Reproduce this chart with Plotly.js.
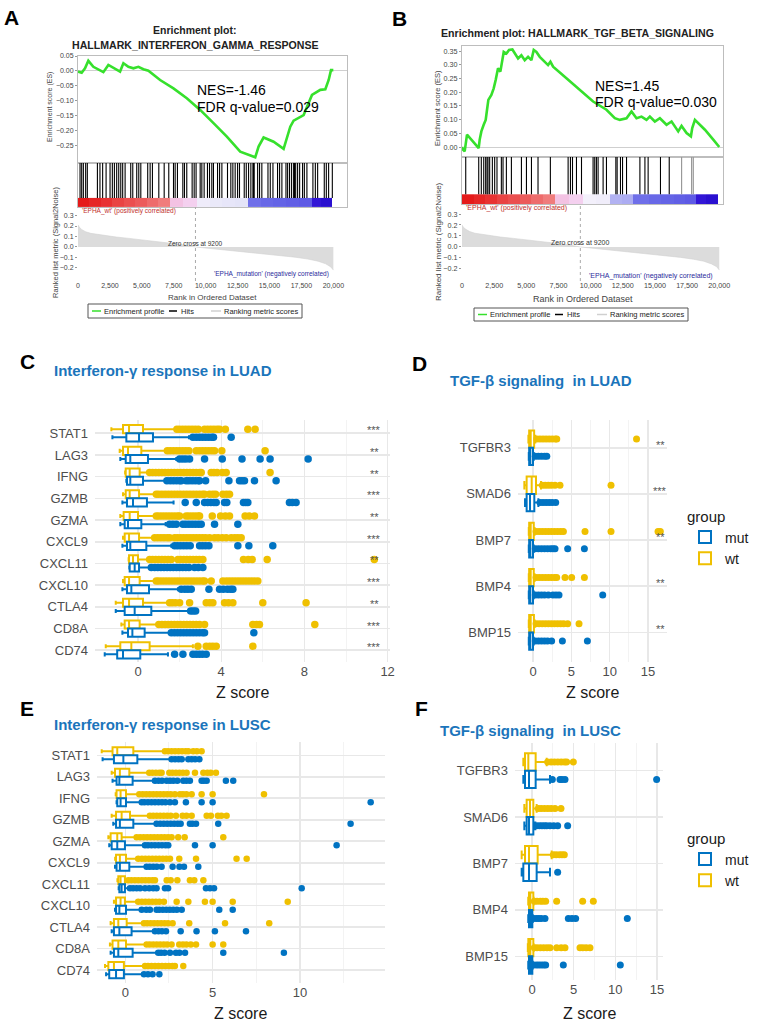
<!DOCTYPE html>
<html><head><meta charset="utf-8">
<script src="https://cdn.plot.ly/plotly-3.0.1.min.js"></script>
<style>html,body{margin:0;padding:0;background:#fff}#chart{width:757px;height:1024px}</style>
</head><body><div id="chart"></div>
<script>
// ---------------- GSEA data ----------------
const esRankA = [0,288,549,810,1203,1725,1987,2379,2902,3294,3556,3948,4340,4732,5124,5516,6431,7477,8523,9569,10614,11660,12706,13229,13882,14144,14536,15320,16105,16627,16889,17673,18327,18980,19373,19634,19817,20000];
const esA = [-0.002,-0.006,0.009,0.034,0.014,0.003,-0.004,0.020,0.009,-0.002,0.026,0.014,0.009,0.014,0.006,0.001,-0.030,-0.058,-0.091,-0.130,-0.174,-0.219,-0.269,-0.277,-0.288,-0.252,-0.222,-0.236,-0.260,-0.186,-0.166,-0.147,-0.080,-0.063,-0.061,-0.030,0.003,0.003];
const hitsA = [160,290,420,600,730,1520,1720,1930,2200,2510,2690,2850,3030,3190,3350,3500,3690,4130,4290,4600,4760,4920,5460,5650,5830,6330,6750,7110,7480,7610,7790,8210,8340,8520,8940,9100,9250,9570,9700,9880,10140,10300,10480,10610,10930,11090,11270,11710,11970,12130,12310,12500,12650,13020,13180,13360,13540,13700,13750,13800,14070,14220,14400,14880,15060,15270,15630,15790,15970,16290,16420,16570,16730,16890,16960,17050,17200,17360,17590,17730,17930,18400,18590,18770,19290,19450,19630,19920];
const barEdgesA = [0,900,1800,2700,3600,4500,5400,6300,7200,8250,9300,10300,11300,12300,13300,14300,15300,16300,17300,18300,19050,19900];
const barLevelsA = [1.0,0.97,0.94,0.9,0.87,0.84,0.8,0.76,0.25,0.2,-0.05,-0.08,-0.1,-0.12,-0.55,-0.58,-0.6,-0.62,-0.64,-0.95,-1.0];
const metricRank = [0,100,300,600,1000,1500,2000,3000,4000,5000,6000,7000,8000,9200,10000,11000,12000,13000,14000,15000,16000,17000,18000,18800,19400,19800,20000];
const metricA = [0.21,0.19,0.165,0.145,0.13,0.12,0.11,0.095,0.082,0.068,0.055,0.04,0.025,0.0,-0.01,-0.022,-0.034,-0.045,-0.057,-0.068,-0.082,-0.097,-0.115,-0.135,-0.16,-0.19,-0.22];

const esRankB = [0,78,208,389,726,1115,1297,1375,1505,1686,1842,1946,2049,2283,2464,2620,2801,2983,3139,3243,3450,3658,3917,4099,4358,4617,4877,5136,5396,5577,5785,6044,6303,6692,6874,7081,8119,9156,10194,11231,11880,12269,12788,13177,13566,13955,14344,14604,14993,15382,15901,16290,16809,17068,17458,17795,17899,18106,18884,19533,20000];
const esB = [0,-0.010,-0.016,0.045,0.027,0.008,-0.004,0.027,0.057,0.081,0.099,0.136,0.172,0.190,0.214,0.245,0.287,0.275,0.329,0.347,0.341,0.354,0.356,0.341,0.323,0.335,0.317,0.329,0.317,0.354,0.347,0.329,0.317,0.299,0.311,0.293,0.251,0.208,0.166,0.136,0.105,0.099,0.105,0.130,0.105,0.111,0.099,0.111,0.093,0.105,0.081,0.093,0.057,0.077,0.051,0.039,0.069,0.099,0.063,0.027,0.000];
const hitsB = [290,1300,1500,1690,1840,1950,2020,2150,2360,2540,2720,3060,3190,3450,3840,4620,5010,5400,5910,6870,8250,8430,8590,8900,9290,10190,10320,10450,10580,10970,11230,11960,12060,12320,12480,12790,13830,14220,14470,15430,16110];
const hitsBgray = [17070,17850,17980];
const barEdgesB = [0,900,1800,2700,3600,4500,5400,6300,7200,8300,9400,10400,11500,12400,13300,14500,15500,16500,17300,18200,19000,19900];
const barLevelsB = [1.0,0.97,0.94,0.9,0.87,0.84,0.8,0.76,0.25,0.2,-0.02,-0.04,-0.3,-0.32,-0.55,-0.58,-0.6,-0.62,-0.64,-0.95,-1.0];
const metricB = [0.2,0.18,0.16,0.14,0.125,0.115,0.105,0.09,0.078,0.065,0.052,0.038,0.024,0.0,-0.01,-0.02,-0.032,-0.043,-0.055,-0.066,-0.08,-0.095,-0.112,-0.13,-0.155,-0.18,-0.21];
const rankTicks = [0,2500,5000,7500,10000,12500,15000,17500,20000];

// ---------------- Panel C: Interferon-γ LUAD ----------------
const genesIFN = ['STAT1','LAG3','IFNG','GZMB','GZMA','CXCL9','CXCL11','CXCL10','CTLA4','CD8A','CD74'];
const cWtLf  = [-1.28,-0.88,-0.62,-0.72,-0.85,-0.72,-0.45,-0.72,-1.07,-0.80,-1.55];
const cWtQ1  = [-0.72,-0.72,-0.59,-0.59,-0.69,-0.64,-0.43,-0.64,-0.72,-0.64,-0.85];
const cWtMed = [-0.43,-0.48,-0.40,-0.40,-0.40,-0.43,-0.24,-0.43,-0.43,-0.43,-0.32];
const cWtQ3  = [0.24,0.16,0.08,0.05,0.00,0.05,0.00,0.08,0.24,0.08,0.56];
const cWtUf  = [1.84,1.36,0.48,0.85,0.85,0.72,0.48,0.85,1.49,0.96,2.64];
const cMutLf  = [-1.23,-0.85,-0.56,-0.75,-0.85,-0.75,-0.42,-0.75,-1.07,-0.75,-1.60];
const cMutQ1  = [-0.56,-0.59,-0.53,-0.53,-0.64,-0.53,-0.40,-0.53,-0.64,-0.48,-1.00];
const cMutMed = [0.05,-0.37,-0.37,-0.24,-0.48,-0.37,-0.16,-0.32,-0.16,-0.27,-0.72];
const cMutQ3  = [0.72,0.48,0.24,0.43,0.16,0.40,0.05,0.53,0.64,0.32,0.11];
const cMutUf  = [2.45,1.84,1.33,1.71,1.33,1.60,0.56,1.92,2.48,1.52,1.44];
const cWtOut = [
 [1.87,2.0,2.15,2.3,2.45,2.6,2.75,2.9,3.2,3.35,3.5,3.65,3.8,3.92,4.2,5.28,5.63],
 [1.41,1.55,1.7,1.85,2.0,2.15,2.3,2.45,2.8,2.95,3.1,3.25,3.4,3.55,3.68,4.03,6.11],
 [0.56,0.7,0.85,1.0,1.15,1.3,1.45,1.6,1.75,1.9,2.05,2.2,2.35,2.5,2.65,2.8,2.96,3.04,3.52,3.65,3.8,4.05,4.24,6.35],
 [0.88,1.0,1.15,1.3,1.45,1.6,1.75,1.9,2.05,2.2,2.35,2.5,2.65,2.8,2.95,3.1,3.2,3.44,3.6,3.73,4.08,4.25,4.4],
 [0.88,1.0,1.15,1.3,1.45,1.6,1.75,1.9,2.0,2.32,2.45,2.6,2.75,2.9,2.96,3.57,3.97,4.2,4.4,5.15,5.35,5.6],
 [0.8,0.95,1.1,1.25,1.4,1.52,1.76,1.9,2.05,2.2,2.35,2.5,2.65,2.8,2.95,3.1,3.25,3.44,3.68,3.85,4.05,4.24,4.48,4.65,4.8,4.96],
 [0.56,0.7,0.85,1.0,1.15,1.3,1.45,1.6,1.92,2.05,2.2,2.35,2.5,2.65,2.8,2.95,3.12,5.07,5.3,5.49,6.21,11.36],
 [0.88,1.0,1.15,1.3,1.45,1.6,1.75,1.9,2.05,2.2,2.35,2.5,2.65,2.8,2.95,3.1,3.2,3.52,4.08,4.25,4.4,4.55,4.7,4.85,5.0,5.15,5.3,5.45,5.6,5.76],
 [1.52,1.65,1.8,2.0,2.48,3.28,3.45,3.6,4.16,4.35,4.56,6.0,8.08],
 [1.0,1.15,1.3,1.45,1.6,1.75,1.9,2.05,2.2,2.35,2.5,2.65,2.8,2.96,3.2,5.52,5.7,5.84,8.5],
 [2.88,3.28,3.45,3.6,3.76,5.52]
];
const cMutOut = [
 [2.64,2.8,2.95,3.1,3.25,3.4,3.55,3.63,4.48],
 [2.0,2.15,2.3,2.48,3.2,4.05,5.0,5.87,6.35,8.18],
 [1.39,1.55,1.7,1.85,2.0,2.08,2.32,2.45,2.6,2.75,2.9,2.96,3.25,4.37,4.88,5.0,5.12,5.6,6.64],
 [2.27,2.8,3.2,3.35,3.5,3.65,3.76,4.16,4.27,5.07,5.18,5.28,7.28,7.42,7.6],
 [1.52,1.68,1.84,2.16,2.3,2.45,2.6,2.75,2.9,3.04,3.68,4.8],
 [1.76,1.9,2.05,2.2,2.35,2.51,2.96,3.1,3.25,3.41,4.8,5.33,6.48],
 [0.64,0.8,0.95,1.1,1.25,1.4,1.55,1.7,1.85,2.0,2.15,2.3,2.45,2.72,2.9,3.12],
 [2.08,2.25,2.4,2.56,3.41,3.92,4.1,4.3,4.45,4.56],
 [2.53,2.65,2.77],
 [1.6,1.75,1.9,2.05,2.2,2.35,2.5,2.65,2.8,2.95,3.1,3.2,5.57],
 [1.76,2.16,2.64,2.8,2.95,3.1,3.28]
];
const cStars = ['***','**','**','***','**','***','**','***','**','***','***'];

// ---------------- Panel E: Interferon-γ LUSC ----------------
const eWtLf  = [-1.35,-0.78,-0.55,-0.78,-0.97,-0.58,-0.45,-0.65,-0.84,-0.88,-1.16];
const eWtQ1  = [-0.73,-0.59,-0.50,-0.53,-0.84,-0.53,-0.40,-0.53,-0.65,-0.73,-0.97];
const eWtMed = [-0.46,-0.31,-0.27,-0.21,-0.46,-0.31,-0.27,-0.27,-0.40,-0.40,-0.65];
const eWtQ3  = [0.46,0.23,0.04,0.27,-0.21,0.04,-0.02,-0.02,0.08,0.04,-0.08];
const eWtUf  = [2.21,1.32,0.74,1.32,0.55,0.65,0.08,0.65,0.99,1.13,1.07];
const eMutLf  = [-1.30,-0.73,-0.50,-0.69,-0.92,-0.59,-0.38,-0.59,-0.78,-0.84,-1.10];
const eMutQ1  = [-0.65,-0.50,-0.46,-0.53,-0.78,-0.50,-0.34,-0.53,-0.65,-0.65,-0.92];
const eMutMed = [-0.11,-0.34,-0.27,-0.31,-0.46,-0.31,-0.21,-0.34,-0.34,-0.40,-0.53];
const eMutQ3  = [0.69,0.42,0.04,0.46,-0.02,0.23,-0.02,0.04,0.36,0.42,-0.08];
const eMutUf  = [2.56,1.60,0.88,1.70,1.03,1.13,0.17,0.84,1.60,1.79,0.99];
const eWtOut = [
 [2.27,2.45,2.65,2.85,3.05,3.25,3.45,3.61,3.89,4.1,4.37],
 [1.37,1.55,1.75,1.95,2.08,2.52,2.7,2.9,3.1,3.3,3.51,3.99,4.47,4.7,4.89,5.19],
 [0.8,1.0,1.2,1.4,1.6,1.8,2.0,2.2,2.4,2.6,2.84,3.13,3.3,3.5,3.8,4.37,5.0,7.94],
 [1.41,1.6,1.8,2.0,2.2,2.4,2.6,2.9,3.28,3.5,3.8,4.66,4.9,5.3,5.5,5.8],
 [0.65,0.85,1.05,1.25,1.45,1.65,1.85,2.05,2.25,2.45,2.65,3.03,3.4,5.61],
 [0.74,0.95,1.15,1.35,1.55,1.75,1.95,2.15,2.35,2.56,3.09,4.05,6.37,6.95],
 [0.17,0.35,0.55,0.75,0.95,1.15,1.35,1.55,1.7,2.37,2.6,2.98,3.7,3.95,4.47],
 [0.74,0.95,1.15,1.35,1.55,1.75,1.95,2.21,2.94,3.61,4.56,5.0,6.15,9.3],
 [1.07,1.25,1.45,1.65,1.85,2.05,2.25,2.45,2.71,3.66,5.71,8.24],
 [1.22,1.4,1.6,1.8,2.0,2.2,2.4,2.65,3.09,3.3,3.5,3.75,4.05,5.0,5.61],
 [1.13,1.3,1.5,1.7,1.9,2.1,2.3,2.5,2.7,2.84,3.32]
];
const eMutOut = [
 [2.65,2.85,3.05,3.23,3.61,3.8,4.0,4.24],
 [1.7,1.9,2.1,2.37,2.56,2.75,2.98,3.32,3.5,3.7,4.37,4.5,4.66,5.76,6.18],
 [0.94,1.1,1.3,1.5,1.7,1.9,2.1,2.3,2.56,2.84,3.47,4.37,5.0,14.05],
 [1.79,2.0,2.2,2.4,2.6,2.8,3.0,3.17,3.7,3.85,4.05,5.32,12.9],
 [1.13,1.3,1.5,1.7,1.9,2.1,2.3,2.46,3.99,5.0,12.1],
 [1.22,1.4,1.6,1.8,2.08,2.71,3.1,3.36,4.18],
 [0.27,0.45,0.65,0.85,1.13,1.37,1.6,1.79,2.27,2.45,4.62,4.85,5.08,10.1],
 [0.94,1.2,1.41,1.79,1.95,2.15,2.35,2.55,2.75,2.95,3.23,5.38,6.15],
 [1.7,1.9,2.1,2.33,3.17,4.08,5.13,6.91],
 [1.89,2.05,2.25,2.56,2.9,3.1,3.42,5.61,9.08],
 [1.07,1.3,1.56,1.95]
];

// ---------------- Panel D: TGF-β LUAD ----------------
const genesTGF = ['TGFBR3','SMAD6','BMP7','BMP4','BMP15'];
const dWtLf  = [-0.60,-1.13,-0.55,-0.55,-0.55];
const dWtQ1  = [-0.50,-0.83,-0.50,-0.50,-0.50];
const dWtMed = [-0.30,-0.17,-0.30,-0.30,-0.30];
const dWtQ3  = [0.15,0.39,0.10,0.10,0.12];
const dWtUf  = [0.30,1.04,0.20,0.20,0.22];
const dMutLf  = [-0.55,-1.04,-0.55,-0.55,-0.55];
const dMutQ1  = [-0.50,-0.83,-0.50,-0.50,-0.50];
const dMutMed = [-0.35,-0.39,-0.35,-0.35,-0.35];
const dMutQ3  = [0.00,0.17,0.00,0.00,0.00];
const dMutUf  = [0.10,0.70,0.10,0.10,0.10];
const dWtOut = [
 [0.5,0.9,1.3,1.7,2.1,2.5,2.9,3.1,13.5],
 [1.22,1.6,2.0,2.4,2.87,3.52,10.17],
 [0.4,0.8,1.2,1.6,2.0,2.4,2.8,3.2,3.6,3.96,6.78,10.17,16.3,16.6],
 [0.4,0.8,1.2,1.6,2.0,2.4,2.8,3.09,4.17,5.04,6.7],
 [0.4,0.8,1.2,1.6,2.0,2.4,2.8,3.2,3.6,4.0,4.52,6.0]
];
const dMutOut = [
 [0.3,0.7,1.1,1.5,1.8],
 [0.91,1.3,1.7,2.1,2.5,2.96],
 [0.3,0.7,1.1,1.5,1.9,2.3,2.6,2.87,4.52,6.7],
 [0.3,0.7,1.1,1.5,2.0,2.6,3.0,3.39,9.09],
 [0.3,0.7,1.1,1.5,1.9,2.43,3.83,7.09]
];
const dStars = ['**','***','**','**','**'];

// ---------------- Panel F: TGF-β LUSC ----------------
const fWtLf  = [-1.04,-0.92,-1.24,-0.45,-0.50];
const fWtQ1  = [-0.84,-0.64,-0.84,-0.36,-0.44];
const fWtMed = [-0.44,-0.24,-0.36,-0.20,-0.20];
const fWtQ3  = [0.44,0.16,0.68,0.16,0.16];
const fWtUf  = [1.76,0.56,2.36,0.20,0.20];
const fMutLf  = [-1.04,-0.92,-1.24,-0.45,-0.45];
const fMutQ1  = [-0.84,-0.64,-1.04,-0.36,-0.36];
const fMutMed = [-0.36,-0.36,-0.36,-0.20,-0.20];
const fMutQ3  = [0.44,0.16,0.56,0.04,0.04];
const fMutUf  = [2.16,0.40,2.16,0.10,0.10];
const fWtOut = [
 [1.88,2.3,2.7,3.1,3.5,3.9,4.16,4.96],
 [0.76,1.1,1.5,1.9,2.3,2.76,3.48],
 [2.56,2.9,3.3,3.6,3.88],
 [0.28,0.6,1.0,1.3,1.64,2.96,6.08,7.36],
 [0.28,0.6,1.0,1.4,1.8,2.16,2.96,3.5,3.96,5.76,6.1,6.5,6.96]
];
const fMutOut = [
 [2.44,3.36,3.6,3.96,14.96],
 [0.56,0.9,1.2,1.5,1.76,2.16,2.6,3.08,4.28],
 [3.08],
 [0.16,0.5,0.8,1.1,1.56,4.36,4.8,5.24,11.44],
 [0.16,0.5,0.8,1.1,1.4,1.64,3.76,10.6]
];

// ---------------- helpers ----------------
const W = 757, H = 1024;
const PX = v => v / W, PY = v => 1 - v / H;
const YEL = '#EFC000', BLU = '#0073C2', GREEN = '#36E02C';
const FONT = 'Liberation Sans, Arial, sans-serif';
const TITLE_BLUE = '#1B75BB';

function hitLines(h, y0, y1) {
  const x = [], y = [];
  h.forEach(v => { x.push(v, v, null); y.push(y0, y1, null); });
  return {x, y};
}
const barScale = [[0,'#2a10d0'],[0.05,'#3a1cdc'],[0.2,'#6464e6'],[0.25,'#7a7aec'],[0.44,'#e4e4f8'],[0.5,'#f6f2fb'],[0.6,'#f4d0ef'],[0.63,'#f3bfe0'],[0.875,'#f08080'],[1,'#e51a1a']];

const traces = [];
function gsea(ax, es, esRank, hits, hitsGray, edges, levels, metric) {
  const [xa1, xa2, xa3, ya1, ya2, ya3] = ax;
  traces.push({type:'scatter', mode:'lines', x: esRank, y: es, line:{color:GREEN, width:2.6}, xaxis:xa1, yaxis:ya1, showlegend:false, hoverinfo:'skip'});
  const hl = hitLines(hits, 0, 1);
  traces.push({type:'scatter', mode:'lines', x: hl.x, y: hl.y, line:{color:'#000', width:1.1}, xaxis:xa2, yaxis:ya2, showlegend:false, hoverinfo:'skip'});
  if (hitsGray) {
    const hg = hitLines(hitsGray, 0, 1);
    traces.push({type:'scatter', mode:'lines', x: hg.x, y: hg.y, line:{color:'#999', width:1.2}, xaxis:xa2, yaxis:ya2, showlegend:false, hoverinfo:'skip'});
  }
  traces.push({type:'heatmap', x: edges, y: [-0.26, 0], z: [levels], zmin:-1, zmax:1, colorscale: barScale, showscale:false, xaxis:xa2, yaxis:ya2, hoverinfo:'skip'});
  traces.push({type:'scatter', mode:'lines', x: metricRank, y: metric, fill:'tozeroy', fillcolor:'#dcdcdc', line:{color:'#d2d2d2', width:0.6}, xaxis:xa3, yaxis:ya3, showlegend:false, hoverinfo:'skip'});
}
gsea(['x','x2','x3','y','y2','y3'], esA, esRankA, hitsA, null, barEdgesA, barLevelsA, metricA);
gsea(['x4','x5','x6','y4','y5','y6'], esB, esRankB, hitsB, hitsBgray, barEdgesB, barLevelsB, metricB);

function boxTrace(panel, name, color, genes, lf, q1, med, q3, uf, out, xa, ya, msize, legend) {
  return {type:'box', orientation:'h', name: name, y: genes, x: out,
    lowerfence: lf, q1: q1, median: med, q3: q3, upperfence: uf,
    alignmentgroup: panel, offsetgroup: panel + name,
    boxpoints:'all', jitter:0, pointpos:0,
    fillcolor:'#ffffff', line:{color: color, width: 2},
    marker:{color: color, size: msize, line:{width:0}},
    xaxis: xa, yaxis: ya, showlegend: !!legend, legend: legend || 'legend', hoverinfo:'skip'};
}
traces.push(boxTrace('C', 'wt', YEL, genesIFN, cWtLf, cWtQ1, cWtMed, cWtQ3, cWtUf, cWtOut, 'x7', 'y7', 7.5));
traces.push(boxTrace('C', 'mut', BLU, genesIFN, cMutLf, cMutQ1, cMutMed, cMutQ3, cMutUf, cMutOut, 'x7', 'y7', 7.5));
traces.push(boxTrace('D', 'wt', YEL, genesTGF, dWtLf, dWtQ1, dWtMed, dWtQ3, dWtUf, dWtOut, 'x8', 'y8', 7, 'legend3'));
traces.push(boxTrace('D', 'mut', BLU, genesTGF, dMutLf, dMutQ1, dMutMed, dMutQ3, dMutUf, dMutOut, 'x8', 'y8', 7, 'legend3'));
traces.push(boxTrace('E', 'wt', YEL, genesIFN, eWtLf, eWtQ1, eWtMed, eWtQ3, eWtUf, eWtOut, 'x9', 'y9', 6.5));
traces.push(boxTrace('E', 'mut', BLU, genesIFN, eMutLf, eMutQ1, eMutMed, eMutQ3, eMutUf, eMutOut, 'x9', 'y9', 6.5));
traces.push(boxTrace('F', 'wt', YEL, genesTGF, fWtLf, fWtQ1, fWtMed, fWtQ3, fWtUf, fWtOut, 'x10', 'y10', 7, 'legend4'));
traces.push(boxTrace('F', 'mut', BLU, genesTGF, fMutLf, fMutQ1, fMutMed, fMutQ3, fMutUf, fMutOut, 'x10', 'y10', 7, 'legend4'));

// ---------------- axes ----------------
const tickF = {size:7, color:'#444', family: FONT};
const frame = {showline:true, mirror:true, linecolor:'#bdbdbd', linewidth:1, showgrid:false, zeroline:false};
function gseaAxes(L, xl, xr, xmax, esTop, esBot, esRange, esTicks, hitBot, metBot, metRange, tf) {
  const d = [PX(xl), PX(xr)];
  const o = {};
  o[L[0]] = Object.assign({domain:d, range:[0,xmax], anchor:L[3].replace('axis',''), showticklabels:false, ticks:''}, frame);
  o[L[3]] = Object.assign({domain:[PY(esBot), PY(esTop)], range:esRange, anchor:L[0].replace('axis',''), tickvals:esTicks, tickformat:'.2f', ticks:'outside', ticklen:2, tickcolor:'#999', tickfont:tf}, frame, {zeroline:true, zerolinecolor:'#cfcfcf', zerolinewidth:1});
  o[L[1]] = Object.assign({domain:d, range:[0,xmax], anchor:L[4].replace('axis',''), showticklabels:false, ticks:''}, frame);
  o[L[4]] = Object.assign({domain:[PY(hitBot), PY(esBot)], range:[-0.26,1], anchor:L[1].replace('axis',''), showticklabels:false, ticks:''}, frame);
  o[L[2]] = {domain:d, range:[0,xmax], anchor:L[5].replace('axis',''), tickvals:rankTicks, tickformat:',d', ticks:'', ticklabelstandoff:-1, tickfont:tf, showgrid:false, zeroline:false, showline:false};
  o[L[5]] = {domain:[PY(metBot), PY(hitBot)], range:metRange, anchor:L[2].replace('axis',''), tickvals:[0.3,0.2,0.1,0,-0.1,-0.2], tickformat:'.1f', ticks:'outside', ticklen:2, tickcolor:'#999', tickfont:tf, showgrid:false, zeroline:false, showline:false};
  return o;
}
const esTicksA = [0.05,0,-0.05,-0.1,-0.15,-0.2,-0.25];
const esTicksB = [0.35,0.3,0.25,0.2,0.15,0.1,0.05,0];
const axA = gseaAxes(['xaxis','xaxis2','xaxis3','yaxis','yaxis2','yaxis3'], 78, 347, 21070, 56, 163, [-0.307,0.05], esTicksA, 207, 281, [-0.324,0.381], tickF);
const axB = gseaAxes(['xaxis4','xaxis5','xaxis6','yaxis4','yaxis5','yaxis6'], 462, 723, 20290, 46, 157, [-0.0365,0.3686], esTicksB, 204, 281, [-0.31,0.391], {size:7.2, color:'#444', family:FONT});

const GRID = '#e8e8e8', MINOR = '#f3f3f3';
const catTick = {size:13, color:'#4d4d4d', family:FONT};
function boxAxes(xn, yn, xl, xr, xrange, xt, minor, yt, yb, genes, yrange) {
  const o = {};
  o['xaxis'+xn] = {domain:[PX(xl),PX(xr)], range:xrange, anchor:'y'+yn, tickvals:xt, ticks:'', tickfont:catTick,
    showgrid:true, gridcolor:GRID, gridwidth:1.4, zeroline:false, showline:false,
    minor:{tickvals:minor, showgrid:true, gridcolor:MINOR, gridwidth:1, ticks:''}};
  o['yaxis'+yn] = {domain:[PY(yb),PY(yt)], type:'category', categoryorder:'array', categoryarray:genes, range:yrange,
    anchor:'x'+xn, ticks:'', tickfont:catTick, showgrid:true, gridcolor:GRID, gridwidth:1.6, zeroline:false, showline:false, ticklabelstandoff:6};
  return o;
}
const axC = boxAxes(7, 7, 95, 390, [-2.067,12.115], [0,4,8,12], [2,6,10], 420, 662, genesIFN, [10.54,-0.61]);
const axD = boxAxes(8, 8, 518, 667, [-1.956,17.47], [0,5,10,15], [2.5,7.5,12.5], 420, 662, genesTGF, [4.64,-0.6]);
const axE = boxAxes(9, 9, 97, 385, [-1.62,14.87], [0,5,10], [2.5,7.5,12.5], 742, 983, genesIFN, [10.6,-0.62]);
const axF = boxAxes(10, 10, 515, 663.3, [-2.04,15.76], [0,5,10,15], [2.5,7.5,12.5], 743.3, 980, genesTGF, [4.51,-0.59]);

// ---------------- annotations ----------------
const ann = [];
function T(text, x, y, size, opts) {
  ann.push(Object.assign({text:text, xref:'paper', yref:'paper', x:PX(x), y:PY(y), showarrow:false,
    font:{size:size, color:'#000', family:FONT}, xanchor:'center', yanchor:'middle'}, opts || {}));
}
[['A',11,17],['B',399,18],['C',27,361],['D',419,363],['E',27,708],['F',421,708]].forEach(l => T('<b>'+l[0]+'</b>', l[1], l[2], 21));
T('<b>Enrichment plot:</b>', 194, 30, 10.5, {font:{size:10.5,color:'#222',family:FONT}});
T('<b>HALLMARK_INTERFERON_GAMMA_RESPONSE</b>', 195, 45, 10.6, {font:{size:10.6,color:'#222',family:FONT}});
T('<b>Enrichment plot: HALLMARK_TGF_BETA_SIGNALING</b>', 577, 33, 10.6, {font:{size:10.6,color:'#222',family:FONT}});
T('NES=-1.46', 195, 90, 14, {xanchor:'left'});
T('FDR q-value=0.029', 195, 107, 14, {xanchor:'left'});
T('NES=1.45', 593, 86, 14, {xanchor:'left'});
T('FDR q-value=0.030', 593, 102, 14, {xanchor:'left'});
const g = {color:'#444', family:FONT};
T('Enrichment score (ES)', 50, 107, 7, {textangle:-90, font:Object.assign({size:7}, g)});
T('Ranked list metric (Signal2Noise)', 55, 243, 7.5, {textangle:-90, font:Object.assign({size:7.5}, g)});
T('Rank in Ordered Dataset', 212, 297, 8, {font:Object.assign({size:8}, g)});
T('Enrichment score (ES)', 437, 108, 7.5, {textangle:-90, font:Object.assign({size:7.5}, g)});
T('Ranked list metric (Signal2Noise)', 438, 242, 8, {textangle:-90, font:Object.assign({size:8}, g)});
T('Rank in Ordered Dataset', 583, 298.5, 9, {font:Object.assign({size:9}, g)});
T("'EPHA_wt' (positively correlated)", 80, 211, 6.5, {xanchor:'left', font:{size:6.5,color:'#c0302c',family:FONT}});
T("'EPHA_mutation' (negatively correlated)", 331, 274, 6.5, {xanchor:'right', font:{size:6.5,color:'#2c2c9c',family:FONT}});
T("'EPHA_wt' (positively correlated)", 464, 208, 7, {xanchor:'left', font:{size:7,color:'#c0302c',family:FONT}});
T("'EPHA_mutation' (negatively correlated)", 715, 276, 7, {xanchor:'right', font:{size:7,color:'#2c2c9c',family:FONT}});
ann.push({text:'Zero cross at 9200', xref:'x3', yref:'y3', x:9200, y:0.03, showarrow:false, font:{size:6.5,color:'#333',family:FONT}});
ann.push({text:'Zero cross at 9200', xref:'x6', yref:'y6', x:9200, y:0.04, showarrow:false, font:{size:7,color:'#333',family:FONT}});
T('<b>Interferon-γ response in LUAD</b>', 52, 370, 15, {xanchor:'left', font:{size:15,color:TITLE_BLUE,family:FONT}});
T('<b>TGF-β signaling  in LUAD</b>', 448, 380, 15, {xanchor:'left', font:{size:15,color:TITLE_BLUE,family:FONT}});
T('<b>Interferon-γ response in LUSC</b>', 52, 724, 15, {xanchor:'left', font:{size:15,color:TITLE_BLUE,family:FONT}});
T('<b>TGF-β signaling  in LUSC</b>', 438, 730, 15, {xanchor:'left', font:{size:15,color:TITLE_BLUE,family:FONT}});
T('Z score', 242, 692, 16, {font:{size:16,color:'#1a1a1a',family:FONT}});
T('Z score', 592, 692, 16, {font:{size:16,color:'#1a1a1a',family:FONT}});
T('Z score', 241, 1013, 16, {font:{size:16,color:'#1a1a1a',family:FONT}});
T('Z score', 589, 1013, 16, {font:{size:16,color:'#1a1a1a',family:FONT}});
genesIFN.forEach((gname, i) => ann.push({text:cStars[i], xref:'x7', yref:'y7', x:11.35, y:gname, yshift:3, showarrow:false, font:{size:11,color:'#555',family:FONT}}));
genesTGF.forEach((gname, i) => ann.push({text:dStars[i], xref:'x8', yref:'y8', x:16.6, y:gname, yshift:3, showarrow:false, font:{size:11,color:'#555',family:FONT}}));

const shapes = [];
function gLegend(left, top, bottom) {
  shapes.push({type:'rect', xref:'paper', yref:'paper', x0:PX(left), x1:PX(left+214), y0:PY(bottom), y1:PY(top), line:{color:'#555', width:1}, fillcolor:'rgba(0,0,0,0)'});
  const ym = (top + bottom) / 2;
  [[4,13,GREEN,14,'Enrichment profile'],[81,89,'#000',91,'Hits'],[123,133,'#d0d0d0',134,'Ranking metric scores']].forEach(it => {
    shapes.push({type:'line', xref:'paper', yref:'paper', x0:PX(left+it[0]), x1:PX(left+it[1]), y0:PY(ym), y1:PY(ym), line:{color:it[2], width:1.5}});
    T(it[4], left+it[3], ym, 7.5, {xanchor:'left', font:{size:7.5,color:'#222',family:FONT}});
  });
}
gLegend(88, 304, 318);
gLegend(474, 308, 321);
shapes.push({type:'line', xref:'x3', yref:'y3 domain', x0:9200, x1:9200, y0:0, y1:1, line:{color:'#aaa', width:1, dash:'dot'}});
shapes.push({type:'line', xref:'x6', yref:'y6 domain', x0:9200, x1:9200, y0:0, y1:1, line:{color:'#aaa', width:1, dash:'dot'}});

const legStyle = (y) => ({x:PX(685), y:PY(y), xanchor:'left', yanchor:'top', traceorder:'reversed', bgcolor:'rgba(0,0,0,0)',
  title:{text:'group', font:{size:15,color:'#1a1a1a',family:FONT}}, font:{size:14,color:'#1a1a1a',family:FONT}, itemwidth:30});

const layout = Object.assign({
  width:W, height:H, margin:{l:0,r:0,t:0,b:0}, paper_bgcolor:'#fff', plot_bgcolor:'rgba(0,0,0,0)',
  font:{family:FONT}, boxmode:'group', boxgap:0.25, boxgroupgap:0,
  showlegend:true, annotations:ann, shapes:shapes,
  legend:{visible:false},
  legend3: legStyle(502), legend4: legStyle(824)
}, axA, axB, axC, axD, axE, axF);

Plotly.newPlot('chart', traces, layout, {staticPlot:true, displayModeBar:false});
</script></body></html>
